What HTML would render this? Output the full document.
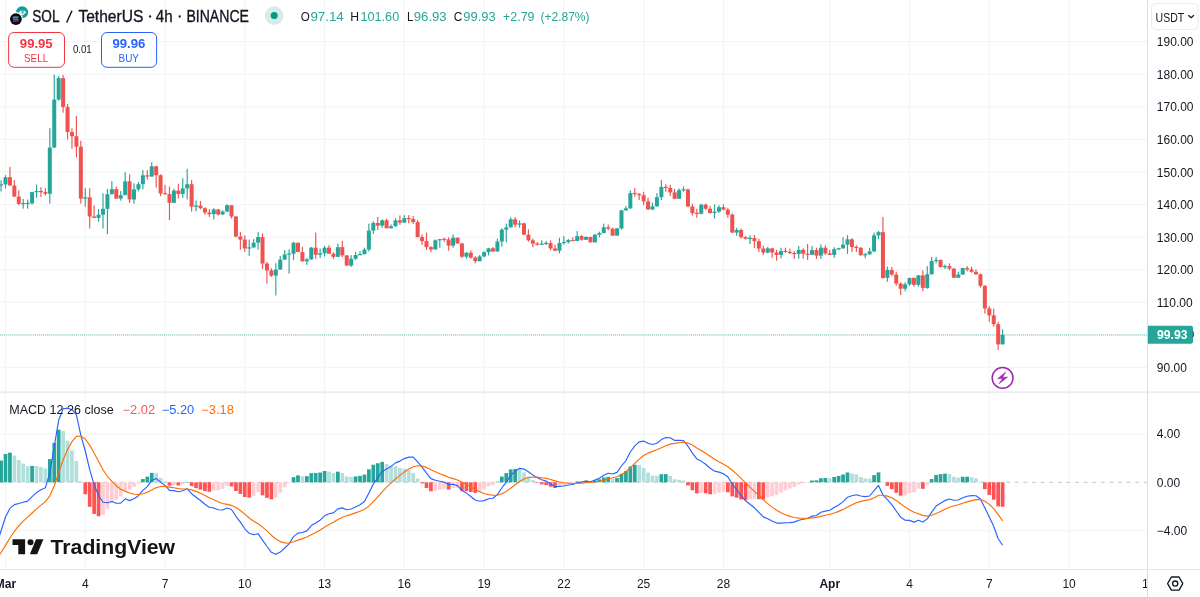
<!DOCTYPE html><html><head><meta charset="utf-8"><title>SOLUSDT</title><style>html,body{margin:0;padding:0;background:#fff;width:1200px;height:597px;overflow:hidden;font-family:"Liberation Sans",sans-serif}</style></head><body><svg width="1200" height="597" viewBox="0 0 1200 597" style="position:absolute;left:0;top:0;font-family:'Liberation Sans',sans-serif">
<defs><clipPath id="cp"><rect x="0" y="0" width="1147" height="597"/></clipPath><filter id="idf" x="0" y="0" width="1200" height="597" filterUnits="userSpaceOnUse" color-interpolation-filters="sRGB"><feOffset dx="0" dy="0"/></filter></defs>
<g filter="url(#idf)">
<rect width="1200" height="597" fill="#fff"/>
<g clip-path="url(#cp)">
<rect x="4.95" y="0" width="1.1" height="569" fill="#f3f5f5"/>
<rect x="84.72" y="0" width="1.1" height="569" fill="#f3f5f5"/>
<rect x="164.48" y="0" width="1.1" height="569" fill="#f3f5f5"/>
<rect x="244.25" y="0" width="1.1" height="569" fill="#f3f5f5"/>
<rect x="324.02" y="0" width="1.1" height="569" fill="#f3f5f5"/>
<rect x="403.78" y="0" width="1.1" height="569" fill="#f3f5f5"/>
<rect x="483.55" y="0" width="1.1" height="569" fill="#f3f5f5"/>
<rect x="563.32" y="0" width="1.1" height="569" fill="#f3f5f5"/>
<rect x="643.09" y="0" width="1.1" height="569" fill="#f3f5f5"/>
<rect x="722.85" y="0" width="1.1" height="569" fill="#f3f5f5"/>
<rect x="829.21" y="0" width="1.1" height="569" fill="#f3f5f5"/>
<rect x="908.98" y="0" width="1.1" height="569" fill="#f3f5f5"/>
<rect x="988.74" y="0" width="1.1" height="569" fill="#f3f5f5"/>
<rect x="1068.51" y="0" width="1.1" height="569" fill="#f3f5f5"/>
<rect x="0" y="41.08" width="1147" height="1.1" fill="#f3f5f5"/>
<rect x="0" y="73.65" width="1147" height="1.1" fill="#f3f5f5"/>
<rect x="0" y="106.22" width="1147" height="1.1" fill="#f3f5f5"/>
<rect x="0" y="138.78" width="1147" height="1.1" fill="#f3f5f5"/>
<rect x="0" y="171.35" width="1147" height="1.1" fill="#f3f5f5"/>
<rect x="0" y="203.92" width="1147" height="1.1" fill="#f3f5f5"/>
<rect x="0" y="236.49" width="1147" height="1.1" fill="#f3f5f5"/>
<rect x="0" y="269.05" width="1147" height="1.1" fill="#f3f5f5"/>
<rect x="0" y="301.62" width="1147" height="1.1" fill="#f3f5f5"/>
<rect x="0" y="334.19" width="1147" height="1.1" fill="#f3f5f5"/>
<rect x="0" y="366.75" width="1147" height="1.1" fill="#f3f5f5"/>
<rect x="0" y="433.35" width="1147" height="1.1" fill="#f3f5f5"/>
<rect x="0" y="530.15" width="1147" height="1.1" fill="#f3f5f5"/>
<line x1="0" y1="482.3" x2="1147" y2="482.3" stroke="#9598a1" stroke-width="1" stroke-dasharray="4 4.6" opacity="0.55"/>
<line x1="0" y1="335" x2="1147" y2="335" stroke="#26a69a" stroke-width="1.1" stroke-dasharray="1 1.05" opacity="0.7"/>
<g fill="#26a69a"><rect x="0.49" y="180.20" width="1.15" height="11.39"/><rect x="-0.93" y="184.37" width="4.0" height="1.20"/><rect x="4.92" y="175.18" width="1.15" height="13.40"/><rect x="3.50" y="177.19" width="4.0" height="7.20"/><rect x="22.65" y="198.96" width="1.15" height="9.72"/><rect x="21.23" y="203.05" width="4.0" height="1.20"/><rect x="27.08" y="199.46" width="1.15" height="9.21"/><rect x="25.66" y="202.80" width="4.0" height="1.20"/><rect x="31.51" y="192.09" width="1.15" height="12.40"/><rect x="30.09" y="192.09" width="4.0" height="11.22"/><rect x="35.95" y="184.56" width="1.15" height="13.23"/><rect x="34.52" y="190.99" width="4.0" height="1.20"/><rect x="49.24" y="128.27" width="1.15" height="75.38"/><rect x="47.81" y="147.56" width="4.0" height="46.21"/><rect x="53.67" y="74.55" width="1.15" height="73.03"/><rect x="52.25" y="99.59" width="4.0" height="47.97"/><rect x="58.10" y="76.06" width="1.15" height="24.62"/><rect x="56.68" y="78.07" width="4.0" height="21.52"/><rect x="84.69" y="188.24" width="1.15" height="18.43"/><rect x="83.27" y="197.29" width="4.0" height="1.34"/><rect x="97.99" y="209.01" width="1.15" height="12.73"/><rect x="96.56" y="214.71" width="4.0" height="3.18"/><rect x="102.42" y="193.27" width="1.15" height="35.18"/><rect x="100.99" y="208.84" width="4.0" height="5.86"/><rect x="106.85" y="188.91" width="1.15" height="45.23"/><rect x="105.42" y="194.19" width="4.0" height="14.66"/><rect x="111.28" y="181.04" width="1.15" height="13.40"/><rect x="109.86" y="189.16" width="4.0" height="5.03"/><rect x="120.14" y="191.09" width="1.15" height="9.55"/><rect x="118.72" y="195.11" width="4.0" height="3.52"/><rect x="124.58" y="172.16" width="1.15" height="22.95"/><rect x="123.15" y="181.37" width="4.0" height="13.74"/><rect x="133.44" y="183.22" width="1.15" height="20.44"/><rect x="132.01" y="189.33" width="4.0" height="10.13"/><rect x="137.87" y="181.88" width="1.15" height="9.21"/><rect x="136.44" y="184.14" width="4.0" height="5.19"/><rect x="142.30" y="170.15" width="1.15" height="19.26"/><rect x="140.88" y="175.34" width="4.0" height="8.79"/><rect x="151.16" y="162.11" width="1.15" height="14.74"/><rect x="149.74" y="166.30" width="4.0" height="10.22"/><rect x="173.32" y="188.91" width="1.15" height="13.90"/><rect x="171.90" y="190.59" width="4.0" height="12.23"/><rect x="182.19" y="178.19" width="1.15" height="19.60"/><rect x="180.76" y="188.41" width="4.0" height="5.53"/><rect x="186.62" y="168.81" width="1.15" height="30.65"/><rect x="185.19" y="184.22" width="4.0" height="4.19"/><rect x="195.48" y="200.64" width="1.15" height="10.55"/><rect x="194.05" y="205.54" width="4.0" height="1.20"/><rect x="213.21" y="208.24" width="1.15" height="11.22"/><rect x="211.78" y="209.41" width="4.0" height="4.77"/><rect x="222.07" y="210.25" width="1.15" height="4.69"/><rect x="220.64" y="211.59" width="4.0" height="2.85"/><rect x="226.50" y="204.39" width="1.15" height="7.20"/><rect x="225.07" y="205.23" width="4.0" height="6.37"/><rect x="248.66" y="239.56" width="1.15" height="16.25"/><rect x="247.23" y="247.34" width="4.0" height="1.20"/><rect x="253.09" y="239.06" width="1.15" height="8.71"/><rect x="251.66" y="242.66" width="4.0" height="4.77"/><rect x="257.52" y="232.03" width="1.15" height="17.59"/><rect x="256.10" y="237.08" width="4.0" height="5.58"/><rect x="275.25" y="263.24" width="1.15" height="32.16"/><rect x="273.82" y="269.52" width="4.0" height="6.11"/><rect x="279.68" y="256.04" width="1.15" height="13.57"/><rect x="278.25" y="259.64" width="4.0" height="9.88"/><rect x="284.11" y="250.18" width="1.15" height="9.72"/><rect x="282.68" y="254.45" width="4.0" height="5.19"/><rect x="288.54" y="249.34" width="1.15" height="24.29"/><rect x="287.12" y="253.47" width="4.0" height="1.20"/><rect x="292.97" y="241.80" width="1.15" height="18.09"/><rect x="291.55" y="242.81" width="4.0" height="10.89"/><rect x="306.27" y="257.71" width="1.15" height="7.20"/><rect x="304.84" y="259.39" width="4.0" height="1.93"/><rect x="310.70" y="246.83" width="1.15" height="13.07"/><rect x="309.27" y="247.66" width="4.0" height="11.73"/><rect x="319.56" y="248.50" width="1.15" height="9.72"/><rect x="318.14" y="253.19" width="4.0" height="1.51"/><rect x="323.99" y="245.99" width="1.15" height="10.55"/><rect x="322.57" y="247.66" width="4.0" height="5.53"/><rect x="337.29" y="243.48" width="1.15" height="13.40"/><rect x="335.86" y="247.16" width="4.0" height="9.72"/><rect x="350.58" y="255.20" width="1.15" height="11.73"/><rect x="349.16" y="258.72" width="4.0" height="6.87"/><rect x="355.01" y="251.85" width="1.15" height="8.04"/><rect x="353.59" y="255.03" width="4.0" height="3.69"/><rect x="359.44" y="251.01" width="1.15" height="4.20"/><rect x="358.02" y="254.01" width="4.0" height="1.20"/><rect x="363.88" y="247.66" width="1.15" height="6.87"/><rect x="362.45" y="249.59" width="4.0" height="4.61"/><rect x="368.31" y="223.71" width="1.15" height="27.81"/><rect x="366.88" y="230.55" width="4.0" height="19.04"/><rect x="372.74" y="221.14" width="1.15" height="12.90"/><rect x="371.31" y="222.98" width="4.0" height="7.57"/><rect x="381.60" y="219.46" width="1.15" height="8.38"/><rect x="380.18" y="220.30" width="4.0" height="5.36"/><rect x="390.47" y="224.36" width="1.15" height="3.92"/><rect x="389.04" y="226.29" width="4.0" height="1.99"/><rect x="394.90" y="218.17" width="1.15" height="8.38"/><rect x="393.47" y="220.34" width="4.0" height="5.95"/><rect x="403.76" y="215.15" width="1.15" height="7.45"/><rect x="402.33" y="218.17" width="4.0" height="4.44"/><rect x="434.78" y="239.44" width="1.15" height="10.05"/><rect x="433.36" y="240.28" width="4.0" height="9.21"/><rect x="439.21" y="238.94" width="1.15" height="8.88"/><rect x="437.79" y="239.13" width="4.0" height="1.20"/><rect x="452.51" y="234.41" width="1.15" height="13.40"/><rect x="451.08" y="237.76" width="4.0" height="7.87"/><rect x="465.80" y="252.34" width="1.15" height="6.37"/><rect x="464.38" y="252.67" width="4.0" height="4.02"/><rect x="479.10" y="255.02" width="1.15" height="6.20"/><rect x="477.67" y="256.44" width="4.0" height="4.77"/><rect x="483.53" y="251.16" width="1.15" height="6.20"/><rect x="482.10" y="252.17" width="4.0" height="4.27"/><rect x="487.96" y="247.81" width="1.15" height="7.54"/><rect x="486.53" y="248.32" width="4.0" height="3.85"/><rect x="496.82" y="238.60" width="1.15" height="12.90"/><rect x="495.40" y="241.53" width="4.0" height="9.97"/><rect x="501.25" y="228.22" width="1.15" height="18.43"/><rect x="499.83" y="229.64" width="4.0" height="11.89"/><rect x="505.68" y="223.53" width="1.15" height="18.76"/><rect x="504.26" y="227.38" width="4.0" height="2.26"/><rect x="510.12" y="217.16" width="1.15" height="10.39"/><rect x="508.69" y="219.34" width="4.0" height="8.04"/><rect x="518.98" y="220.51" width="1.15" height="7.20"/><rect x="517.55" y="223.36" width="4.0" height="1.34"/><rect x="541.14" y="240.28" width="1.15" height="4.54"/><rect x="539.71" y="243.61" width="4.0" height="1.20"/><rect x="545.57" y="241.11" width="1.15" height="3.85"/><rect x="544.14" y="242.86" width="4.0" height="1.20"/><rect x="558.86" y="237.76" width="1.15" height="15.58"/><rect x="557.44" y="242.96" width="4.0" height="7.71"/><rect x="563.29" y="236.09" width="1.15" height="8.38"/><rect x="561.87" y="241.94" width="4.0" height="1.20"/><rect x="567.73" y="238.94" width="1.15" height="4.69"/><rect x="566.30" y="240.11" width="4.0" height="2.01"/><rect x="576.59" y="231.06" width="1.15" height="10.05"/><rect x="575.16" y="236.13" width="4.0" height="4.82"/><rect x="585.45" y="236.16" width="1.15" height="3.85"/><rect x="584.03" y="237.00" width="4.0" height="2.76"/><rect x="594.31" y="233.99" width="1.15" height="8.38"/><rect x="592.89" y="234.74" width="4.0" height="7.62"/><rect x="598.75" y="231.64" width="1.15" height="5.70"/><rect x="597.32" y="233.07" width="4.0" height="1.68"/><rect x="603.18" y="223.60" width="1.15" height="9.72"/><rect x="601.75" y="227.29" width="4.0" height="5.78"/><rect x="616.47" y="227.79" width="1.15" height="7.87"/><rect x="615.05" y="228.46" width="4.0" height="7.20"/><rect x="620.90" y="209.87" width="1.15" height="19.60"/><rect x="619.48" y="210.37" width="4.0" height="18.09"/><rect x="625.33" y="206.01" width="1.15" height="4.52"/><rect x="623.91" y="208.36" width="4.0" height="2.01"/><rect x="629.77" y="190.44" width="1.15" height="18.43"/><rect x="628.34" y="193.12" width="4.0" height="15.24"/><rect x="651.92" y="202.66" width="1.15" height="7.54"/><rect x="650.50" y="206.26" width="4.0" height="3.18"/><rect x="656.36" y="193.12" width="1.15" height="13.74"/><rect x="654.93" y="197.22" width="4.0" height="9.05"/><rect x="660.79" y="180.05" width="1.15" height="20.10"/><rect x="659.36" y="186.92" width="4.0" height="10.30"/><rect x="678.51" y="188.43" width="1.15" height="10.39"/><rect x="677.09" y="190.10" width="4.0" height="8.71"/><rect x="682.94" y="186.42" width="1.15" height="5.36"/><rect x="681.52" y="189.21" width="4.0" height="1.20"/><rect x="700.67" y="203.84" width="1.15" height="10.55"/><rect x="699.25" y="204.67" width="4.0" height="9.05"/><rect x="713.96" y="204.34" width="1.15" height="14.24"/><rect x="712.54" y="211.71" width="4.0" height="1.34"/><rect x="718.40" y="205.18" width="1.15" height="7.54"/><rect x="716.97" y="207.19" width="4.0" height="4.52"/><rect x="736.12" y="227.79" width="1.15" height="7.87"/><rect x="734.70" y="229.97" width="4.0" height="2.60"/><rect x="749.42" y="235.33" width="1.15" height="8.71"/><rect x="747.99" y="237.87" width="4.0" height="1.20"/><rect x="767.14" y="246.88" width="1.15" height="6.37"/><rect x="765.72" y="248.38" width="4.0" height="4.19"/><rect x="780.44" y="247.71" width="1.15" height="10.55"/><rect x="779.01" y="251.06" width="4.0" height="3.85"/><rect x="798.16" y="246.04" width="1.15" height="12.90"/><rect x="796.74" y="249.89" width="4.0" height="4.02"/><rect x="811.46" y="246.04" width="1.15" height="8.88"/><rect x="810.03" y="250.06" width="4.0" height="4.69"/><rect x="820.32" y="244.36" width="1.15" height="14.57"/><rect x="818.90" y="247.71" width="4.0" height="7.87"/><rect x="833.62" y="247.21" width="1.15" height="10.55"/><rect x="832.19" y="249.14" width="4.0" height="5.78"/><rect x="838.05" y="247.71" width="1.15" height="2.51"/><rect x="836.62" y="248.16" width="4.0" height="1.20"/><rect x="842.48" y="237.16" width="1.15" height="11.39"/><rect x="841.05" y="244.61" width="4.0" height="3.77"/><rect x="846.91" y="235.15" width="1.15" height="18.76"/><rect x="845.48" y="239.34" width="4.0" height="5.28"/><rect x="864.64" y="252.74" width="1.15" height="5.53"/><rect x="863.21" y="254.15" width="4.0" height="1.20"/><rect x="869.07" y="247.71" width="1.15" height="7.20"/><rect x="867.64" y="251.31" width="4.0" height="2.93"/><rect x="873.50" y="232.64" width="1.15" height="19.60"/><rect x="872.07" y="235.32" width="4.0" height="16.00"/><rect x="877.93" y="230.96" width="1.15" height="8.38"/><rect x="876.51" y="232.14" width="4.0" height="3.18"/><rect x="886.79" y="266.64" width="1.15" height="15.08"/><rect x="885.37" y="269.99" width="4.0" height="7.87"/><rect x="904.52" y="282.39" width="1.15" height="8.88"/><rect x="903.09" y="284.31" width="4.0" height="4.44"/><rect x="908.95" y="277.36" width="1.15" height="8.38"/><rect x="907.53" y="278.03" width="4.0" height="6.28"/><rect x="917.81" y="275.02" width="1.15" height="11.73"/><rect x="916.39" y="275.35" width="4.0" height="9.46"/><rect x="926.68" y="266.14" width="1.15" height="22.61"/><rect x="925.25" y="274.26" width="4.0" height="13.65"/><rect x="931.11" y="256.93" width="1.15" height="17.59"/><rect x="929.68" y="261.03" width="4.0" height="13.23"/><rect x="935.54" y="256.93" width="1.15" height="6.37"/><rect x="934.12" y="259.89" width="4.0" height="1.20"/><rect x="944.40" y="264.46" width="1.15" height="4.52"/><rect x="942.98" y="266.04" width="4.0" height="1.20"/><rect x="957.70" y="271.80" width="1.15" height="5.96"/><rect x="956.27" y="274.56" width="4.0" height="3.20"/><rect x="962.13" y="267.61" width="1.15" height="7.20"/><rect x="960.70" y="268.12" width="4.0" height="6.45"/><rect x="1002.01" y="329.31" width="1.15" height="15.08"/><rect x="1000.59" y="334.84" width="4.0" height="9.55"/></g>
<g fill="#ef5350"><rect x="9.36" y="166.80" width="1.15" height="18.76"/><rect x="7.93" y="177.19" width="4.0" height="8.38"/><rect x="13.79" y="180.20" width="1.15" height="16.42"/><rect x="12.36" y="185.56" width="4.0" height="11.06"/><rect x="18.22" y="190.25" width="1.15" height="15.08"/><rect x="16.79" y="196.62" width="4.0" height="7.20"/><rect x="40.38" y="187.24" width="1.15" height="9.72"/><rect x="38.95" y="190.99" width="4.0" height="1.20"/><rect x="44.81" y="188.24" width="1.15" height="7.37"/><rect x="43.38" y="192.09" width="4.0" height="1.68"/><rect x="62.53" y="75.05" width="1.15" height="37.69"/><rect x="61.11" y="78.07" width="4.0" height="28.98"/><rect x="66.97" y="104.03" width="1.15" height="35.51"/><rect x="65.54" y="107.04" width="4.0" height="24.96"/><rect x="71.40" y="128.32" width="1.15" height="20.44"/><rect x="69.97" y="132.00" width="4.0" height="4.25"/><rect x="75.83" y="116.05" width="1.15" height="41.54"/><rect x="74.40" y="136.25" width="4.0" height="10.45"/><rect x="80.26" y="140.84" width="1.15" height="62.81"/><rect x="78.84" y="146.70" width="4.0" height="51.93"/><rect x="89.12" y="188.24" width="1.15" height="40.20"/><rect x="87.70" y="197.29" width="4.0" height="19.18"/><rect x="93.55" y="205.33" width="1.15" height="12.56"/><rect x="92.13" y="216.47" width="4.0" height="1.42"/><rect x="115.71" y="186.57" width="1.15" height="12.06"/><rect x="114.29" y="189.16" width="4.0" height="9.46"/><rect x="129.01" y="174.34" width="1.15" height="28.48"/><rect x="127.58" y="181.37" width="4.0" height="18.09"/><rect x="146.73" y="170.15" width="1.15" height="9.55"/><rect x="145.31" y="175.33" width="4.0" height="1.20"/><rect x="155.60" y="165.96" width="1.15" height="21.78"/><rect x="154.17" y="166.30" width="4.0" height="8.88"/><rect x="160.03" y="174.34" width="1.15" height="21.78"/><rect x="158.60" y="175.18" width="4.0" height="18.26"/><rect x="164.46" y="184.89" width="1.15" height="9.55"/><rect x="163.03" y="193.17" width="4.0" height="1.20"/><rect x="168.89" y="186.57" width="1.15" height="33.50"/><rect x="167.47" y="194.10" width="4.0" height="8.71"/><rect x="177.75" y="183.89" width="1.15" height="14.74"/><rect x="176.33" y="190.59" width="4.0" height="3.35"/><rect x="191.05" y="179.87" width="1.15" height="31.83"/><rect x="189.62" y="184.22" width="4.0" height="22.45"/><rect x="199.91" y="201.04" width="1.15" height="8.38"/><rect x="198.49" y="205.61" width="4.0" height="2.63"/><rect x="204.34" y="207.24" width="1.15" height="7.71"/><rect x="202.92" y="208.24" width="4.0" height="4.27"/><rect x="208.77" y="208.91" width="1.15" height="8.04"/><rect x="207.35" y="212.51" width="4.0" height="1.68"/><rect x="217.64" y="208.91" width="1.15" height="6.70"/><rect x="216.21" y="209.41" width="4.0" height="5.03"/><rect x="230.93" y="205.23" width="1.15" height="13.40"/><rect x="229.51" y="205.23" width="4.0" height="11.31"/><rect x="235.36" y="216.11" width="1.15" height="21.27"/><rect x="233.94" y="216.53" width="4.0" height="20.02"/><rect x="239.79" y="232.03" width="1.15" height="17.59"/><rect x="238.37" y="236.55" width="4.0" height="3.02"/><rect x="244.23" y="235.38" width="1.15" height="16.42"/><rect x="242.80" y="239.56" width="4.0" height="8.88"/><rect x="261.95" y="233.43" width="1.15" height="35.51"/><rect x="260.53" y="237.08" width="4.0" height="26.49"/><rect x="266.38" y="261.90" width="1.15" height="21.78"/><rect x="264.96" y="263.58" width="4.0" height="6.87"/><rect x="270.81" y="268.27" width="1.15" height="8.71"/><rect x="269.39" y="270.44" width="4.0" height="5.19"/><rect x="297.40" y="242.64" width="1.15" height="9.55"/><rect x="295.98" y="242.81" width="4.0" height="9.21"/><rect x="301.84" y="246.83" width="1.15" height="14.74"/><rect x="300.41" y="252.02" width="4.0" height="9.30"/><rect x="315.13" y="232.59" width="1.15" height="26.30"/><rect x="313.70" y="247.66" width="4.0" height="7.04"/><rect x="328.42" y="245.15" width="1.15" height="8.71"/><rect x="327.00" y="247.66" width="4.0" height="6.03"/><rect x="332.86" y="252.19" width="1.15" height="6.70"/><rect x="331.43" y="253.69" width="4.0" height="3.18"/><rect x="341.72" y="240.96" width="1.15" height="16.25"/><rect x="340.29" y="247.16" width="4.0" height="8.21"/><rect x="346.15" y="255.20" width="1.15" height="10.39"/><rect x="344.73" y="255.37" width="4.0" height="10.22"/><rect x="377.17" y="216.95" width="1.15" height="13.07"/><rect x="375.75" y="222.98" width="4.0" height="2.68"/><rect x="386.03" y="218.63" width="1.15" height="9.72"/><rect x="384.61" y="220.30" width="4.0" height="7.98"/><rect x="399.33" y="215.49" width="1.15" height="9.38"/><rect x="397.90" y="220.34" width="4.0" height="2.26"/><rect x="408.19" y="215.15" width="1.15" height="8.04"/><rect x="406.77" y="217.98" width="4.0" height="1.20"/><rect x="412.62" y="215.99" width="1.15" height="7.87"/><rect x="411.20" y="219.00" width="4.0" height="3.02"/><rect x="417.05" y="220.18" width="1.15" height="17.09"/><rect x="415.63" y="222.02" width="4.0" height="15.08"/><rect x="421.49" y="234.41" width="1.15" height="10.55"/><rect x="420.06" y="237.09" width="4.0" height="4.02"/><rect x="425.92" y="232.74" width="1.15" height="17.25"/><rect x="424.49" y="241.11" width="4.0" height="6.03"/><rect x="430.35" y="246.14" width="1.15" height="6.20"/><rect x="428.92" y="247.14" width="4.0" height="2.35"/><rect x="443.64" y="237.76" width="1.15" height="4.19"/><rect x="442.22" y="238.71" width="4.0" height="1.20"/><rect x="448.07" y="237.26" width="1.15" height="13.40"/><rect x="446.65" y="239.44" width="4.0" height="6.20"/><rect x="456.94" y="237.26" width="1.15" height="6.37"/><rect x="455.51" y="237.76" width="4.0" height="5.70"/><rect x="461.37" y="242.79" width="1.15" height="15.08"/><rect x="459.94" y="243.46" width="4.0" height="13.23"/><rect x="470.23" y="250.33" width="1.15" height="8.38"/><rect x="468.81" y="252.67" width="4.0" height="4.94"/><rect x="474.66" y="256.19" width="1.15" height="7.20"/><rect x="473.24" y="257.61" width="4.0" height="3.60"/><rect x="492.39" y="246.98" width="1.15" height="4.52"/><rect x="490.96" y="248.32" width="4.0" height="3.18"/><rect x="514.55" y="217.16" width="1.15" height="10.05"/><rect x="513.12" y="219.34" width="4.0" height="5.36"/><rect x="523.41" y="222.69" width="1.15" height="12.56"/><rect x="521.99" y="223.36" width="4.0" height="11.31"/><rect x="527.84" y="229.39" width="1.15" height="12.23"/><rect x="526.42" y="234.66" width="4.0" height="5.61"/><rect x="532.27" y="238.60" width="1.15" height="8.71"/><rect x="530.85" y="240.28" width="4.0" height="3.35"/><rect x="536.70" y="241.95" width="1.15" height="3.69"/><rect x="535.28" y="243.53" width="4.0" height="1.20"/><rect x="550.00" y="240.28" width="1.15" height="10.05"/><rect x="548.57" y="243.12" width="4.0" height="5.36"/><rect x="554.43" y="244.46" width="1.15" height="6.70"/><rect x="553.01" y="248.48" width="4.0" height="2.18"/><rect x="572.16" y="237.26" width="1.15" height="3.87"/><rect x="570.73" y="239.93" width="4.0" height="1.20"/><rect x="581.02" y="234.99" width="1.15" height="5.70"/><rect x="579.60" y="236.13" width="4.0" height="3.64"/><rect x="589.88" y="236.67" width="1.15" height="5.70"/><rect x="588.46" y="237.00" width="4.0" height="5.36"/><rect x="607.61" y="224.44" width="1.15" height="5.86"/><rect x="606.18" y="227.29" width="4.0" height="1.34"/><rect x="612.04" y="227.79" width="1.15" height="7.87"/><rect x="610.62" y="228.63" width="4.0" height="7.04"/><rect x="634.20" y="188.09" width="1.15" height="8.71"/><rect x="632.77" y="192.89" width="4.0" height="1.20"/><rect x="638.63" y="193.12" width="1.15" height="7.04"/><rect x="637.20" y="193.87" width="4.0" height="1.42"/><rect x="643.06" y="191.78" width="1.15" height="13.40"/><rect x="641.64" y="195.29" width="4.0" height="6.11"/><rect x="647.49" y="197.64" width="1.15" height="12.23"/><rect x="646.07" y="201.41" width="4.0" height="8.04"/><rect x="665.22" y="184.24" width="1.15" height="7.54"/><rect x="663.79" y="186.82" width="4.0" height="1.20"/><rect x="669.65" y="184.74" width="1.15" height="11.22"/><rect x="668.22" y="187.92" width="4.0" height="4.44"/><rect x="674.08" y="188.76" width="1.15" height="10.55"/><rect x="672.66" y="192.36" width="4.0" height="6.45"/><rect x="687.38" y="188.43" width="1.15" height="18.76"/><rect x="685.95" y="189.51" width="4.0" height="16.92"/><rect x="691.81" y="203.84" width="1.15" height="11.73"/><rect x="690.38" y="206.43" width="4.0" height="6.62"/><rect x="696.24" y="208.86" width="1.15" height="8.88"/><rect x="694.81" y="212.78" width="4.0" height="1.20"/><rect x="705.10" y="203.50" width="1.15" height="6.70"/><rect x="703.68" y="204.67" width="4.0" height="4.02"/><rect x="709.53" y="206.01" width="1.15" height="7.54"/><rect x="708.11" y="208.69" width="4.0" height="4.36"/><rect x="722.83" y="204.34" width="1.15" height="5.86"/><rect x="721.40" y="207.19" width="4.0" height="2.51"/><rect x="727.26" y="207.69" width="1.15" height="10.05"/><rect x="725.83" y="209.70" width="4.0" height="4.94"/><rect x="731.69" y="213.22" width="1.15" height="19.60"/><rect x="730.27" y="214.64" width="4.0" height="17.92"/><rect x="740.55" y="228.63" width="1.15" height="10.05"/><rect x="739.13" y="229.97" width="4.0" height="7.20"/><rect x="744.99" y="236.16" width="1.15" height="3.35"/><rect x="743.56" y="237.17" width="4.0" height="1.68"/><rect x="753.85" y="234.99" width="1.15" height="12.90"/><rect x="752.42" y="238.09" width="4.0" height="3.10"/><rect x="758.28" y="238.68" width="1.15" height="13.40"/><rect x="756.86" y="241.19" width="4.0" height="7.37"/><rect x="762.71" y="245.71" width="1.15" height="9.38"/><rect x="761.29" y="248.56" width="4.0" height="4.02"/><rect x="771.57" y="247.71" width="1.15" height="10.05"/><rect x="770.15" y="248.38" width="4.0" height="4.10"/><rect x="776.01" y="249.89" width="1.15" height="10.72"/><rect x="774.58" y="252.49" width="4.0" height="2.43"/><rect x="784.87" y="247.71" width="1.15" height="5.03"/><rect x="783.44" y="250.88" width="4.0" height="1.20"/><rect x="789.30" y="248.55" width="1.15" height="5.36"/><rect x="787.88" y="251.90" width="4.0" height="1.26"/><rect x="793.73" y="251.06" width="1.15" height="7.87"/><rect x="792.31" y="252.93" width="4.0" height="1.20"/><rect x="802.59" y="248.22" width="1.15" height="10.39"/><rect x="801.17" y="249.89" width="4.0" height="3.85"/><rect x="807.03" y="243.86" width="1.15" height="16.08"/><rect x="805.60" y="253.65" width="4.0" height="1.20"/><rect x="815.89" y="247.71" width="1.15" height="11.22"/><rect x="814.46" y="250.06" width="4.0" height="5.53"/><rect x="824.75" y="245.20" width="1.15" height="9.72"/><rect x="823.33" y="247.71" width="4.0" height="5.70"/><rect x="829.18" y="249.89" width="1.15" height="5.03"/><rect x="827.76" y="253.41" width="4.0" height="1.51"/><rect x="851.34" y="238.17" width="1.15" height="13.74"/><rect x="849.92" y="239.34" width="4.0" height="7.71"/><rect x="855.77" y="245.20" width="1.15" height="6.70"/><rect x="854.35" y="246.82" width="4.0" height="1.20"/><rect x="860.20" y="246.88" width="1.15" height="8.71"/><rect x="858.78" y="247.80" width="4.0" height="7.45"/><rect x="882.36" y="217.06" width="1.15" height="61.64"/><rect x="880.94" y="232.14" width="4.0" height="45.73"/><rect x="891.22" y="266.98" width="1.15" height="9.21"/><rect x="889.80" y="269.99" width="4.0" height="4.52"/><rect x="895.66" y="271.67" width="1.15" height="14.07"/><rect x="894.23" y="274.51" width="4.0" height="9.05"/><rect x="900.09" y="282.39" width="1.15" height="12.73"/><rect x="898.66" y="283.56" width="4.0" height="5.19"/><rect x="913.38" y="277.36" width="1.15" height="9.38"/><rect x="911.96" y="278.03" width="4.0" height="6.78"/><rect x="922.25" y="270.33" width="1.15" height="20.94"/><rect x="920.82" y="275.35" width="4.0" height="12.56"/><rect x="939.97" y="259.44" width="1.15" height="7.87"/><rect x="938.55" y="259.94" width="4.0" height="7.20"/><rect x="948.83" y="263.29" width="1.15" height="7.04"/><rect x="947.41" y="266.14" width="4.0" height="2.51"/><rect x="953.27" y="267.81" width="1.15" height="10.05"/><rect x="951.84" y="268.65" width="4.0" height="9.11"/><rect x="966.56" y="265.94" width="1.15" height="5.53"/><rect x="965.14" y="268.12" width="4.0" height="1.42"/><rect x="970.99" y="266.78" width="1.15" height="5.86"/><rect x="969.57" y="269.54" width="4.0" height="2.26"/><rect x="975.42" y="269.29" width="1.15" height="5.53"/><rect x="974.00" y="271.80" width="4.0" height="2.51"/><rect x="979.85" y="273.48" width="1.15" height="14.24"/><rect x="978.43" y="274.31" width="4.0" height="11.56"/><rect x="984.29" y="285.20" width="1.15" height="28.48"/><rect x="982.86" y="285.87" width="4.0" height="22.61"/><rect x="988.72" y="306.14" width="1.15" height="15.58"/><rect x="987.29" y="308.48" width="4.0" height="6.87"/><rect x="993.15" y="308.65" width="1.15" height="18.09"/><rect x="991.72" y="315.35" width="4.0" height="8.82"/><rect x="997.58" y="321.78" width="1.15" height="28.14"/><rect x="996.16" y="324.18" width="4.0" height="20.21"/></g>
<g fill="#26a69a"><rect x="-0.78" y="460.52" width="3.7" height="21.78"/><rect x="3.65" y="453.93" width="3.7" height="28.37"/><rect x="8.08" y="452.70" width="3.7" height="29.60"/><rect x="30.24" y="465.94" width="3.7" height="16.36"/><rect x="47.96" y="459.07" width="3.7" height="23.23"/><rect x="52.40" y="442.88" width="3.7" height="39.42"/><rect x="56.83" y="429.66" width="3.7" height="52.64"/><rect x="141.03" y="479.07" width="3.7" height="3.23"/><rect x="145.46" y="476.65" width="3.7" height="5.65"/><rect x="149.89" y="472.91" width="3.7" height="9.39"/><rect x="185.34" y="482.08" width="3.7" height="0.50"/><rect x="291.70" y="477.14" width="3.7" height="5.16"/><rect x="296.13" y="475.35" width="3.7" height="6.95"/><rect x="304.99" y="476.20" width="3.7" height="6.10"/><rect x="309.42" y="473.19" width="3.7" height="9.11"/><rect x="313.85" y="472.98" width="3.7" height="9.32"/><rect x="318.29" y="472.52" width="3.7" height="9.78"/><rect x="322.72" y="470.99" width="3.7" height="11.31"/><rect x="336.01" y="471.66" width="3.7" height="10.64"/><rect x="353.74" y="476.37" width="3.7" height="5.93"/><rect x="358.17" y="475.86" width="3.7" height="6.44"/><rect x="362.60" y="474.51" width="3.7" height="7.79"/><rect x="367.03" y="469.32" width="3.7" height="12.98"/><rect x="371.46" y="464.73" width="3.7" height="17.57"/><rect x="375.90" y="463.24" width="3.7" height="19.06"/><rect x="380.33" y="461.90" width="3.7" height="20.40"/><rect x="495.55" y="481.68" width="3.7" height="0.62"/><rect x="499.98" y="476.58" width="3.7" height="5.72"/><rect x="504.41" y="473.05" width="3.7" height="9.25"/><rect x="508.84" y="469.33" width="3.7" height="12.97"/><rect x="513.27" y="468.90" width="3.7" height="13.40"/><rect x="575.31" y="481.58" width="3.7" height="0.72"/><rect x="579.75" y="481.41" width="3.7" height="0.89"/><rect x="584.18" y="480.68" width="3.7" height="1.62"/><rect x="593.04" y="480.37" width="3.7" height="1.93"/><rect x="597.47" y="479.32" width="3.7" height="2.98"/><rect x="601.90" y="477.45" width="3.7" height="4.85"/><rect x="606.33" y="476.88" width="3.7" height="5.42"/><rect x="615.20" y="478.05" width="3.7" height="4.25"/><rect x="619.63" y="473.76" width="3.7" height="8.54"/><rect x="624.06" y="471.11" width="3.7" height="11.19"/><rect x="628.49" y="466.51" width="3.7" height="15.79"/><rect x="632.92" y="464.77" width="3.7" height="17.53"/><rect x="659.51" y="474.20" width="3.7" height="8.10"/><rect x="663.94" y="474.18" width="3.7" height="8.12"/><rect x="810.18" y="480.50" width="3.7" height="1.80"/><rect x="814.61" y="480.34" width="3.7" height="1.96"/><rect x="819.05" y="478.16" width="3.7" height="4.14"/><rect x="823.48" y="478.05" width="3.7" height="4.25"/><rect x="832.34" y="476.94" width="3.7" height="5.36"/><rect x="836.77" y="475.94" width="3.7" height="6.36"/><rect x="841.20" y="474.48" width="3.7" height="7.82"/><rect x="845.63" y="472.48" width="3.7" height="9.82"/><rect x="872.22" y="475.16" width="3.7" height="7.14"/><rect x="876.66" y="472.39" width="3.7" height="9.91"/><rect x="929.83" y="479.07" width="3.7" height="3.23"/><rect x="934.26" y="474.94" width="3.7" height="7.36"/><rect x="938.70" y="474.16" width="3.7" height="8.14"/><rect x="943.13" y="473.60" width="3.7" height="8.70"/><rect x="960.85" y="476.80" width="3.7" height="5.50"/><rect x="965.29" y="476.69" width="3.7" height="5.61"/></g>
<g fill="#b2dfdb"><rect x="12.51" y="455.59" width="3.7" height="26.71"/><rect x="16.94" y="460.06" width="3.7" height="22.24"/><rect x="21.38" y="463.56" width="3.7" height="18.74"/><rect x="25.81" y="466.34" width="3.7" height="15.96"/><rect x="34.67" y="466.03" width="3.7" height="16.27"/><rect x="39.10" y="466.93" width="3.7" height="15.37"/><rect x="43.53" y="468.50" width="3.7" height="13.80"/><rect x="61.26" y="431.09" width="3.7" height="51.21"/><rect x="65.69" y="440.79" width="3.7" height="41.51"/><rect x="70.12" y="450.36" width="3.7" height="31.94"/><rect x="74.55" y="460.87" width="3.7" height="21.43"/><rect x="78.99" y="481.32" width="3.7" height="0.98"/><rect x="154.32" y="473.10" width="3.7" height="9.20"/><rect x="158.75" y="477.98" width="3.7" height="4.32"/><rect x="163.18" y="481.38" width="3.7" height="0.92"/><rect x="300.56" y="476.28" width="3.7" height="6.02"/><rect x="327.15" y="471.65" width="3.7" height="10.65"/><rect x="331.58" y="472.99" width="3.7" height="9.31"/><rect x="340.44" y="472.98" width="3.7" height="9.32"/><rect x="344.88" y="476.41" width="3.7" height="5.89"/><rect x="349.31" y="476.93" width="3.7" height="5.37"/><rect x="384.76" y="463.93" width="3.7" height="18.37"/><rect x="389.19" y="465.65" width="3.7" height="16.65"/><rect x="393.62" y="466.19" width="3.7" height="16.11"/><rect x="398.05" y="467.93" width="3.7" height="14.37"/><rect x="402.48" y="468.79" width="3.7" height="13.51"/><rect x="406.92" y="470.33" width="3.7" height="11.97"/><rect x="411.35" y="472.75" width="3.7" height="9.55"/><rect x="415.78" y="478.49" width="3.7" height="3.81"/><rect x="517.70" y="468.99" width="3.7" height="13.31"/><rect x="522.14" y="472.43" width="3.7" height="9.87"/><rect x="526.57" y="476.47" width="3.7" height="5.83"/><rect x="531.00" y="480.14" width="3.7" height="2.16"/><rect x="588.61" y="481.58" width="3.7" height="0.72"/><rect x="610.77" y="478.50" width="3.7" height="3.80"/><rect x="637.35" y="465.11" width="3.7" height="17.19"/><rect x="641.79" y="467.88" width="3.7" height="14.42"/><rect x="646.22" y="472.53" width="3.7" height="9.77"/><rect x="650.65" y="475.46" width="3.7" height="6.84"/><rect x="655.08" y="475.80" width="3.7" height="6.50"/><rect x="668.37" y="475.98" width="3.7" height="6.32"/><rect x="672.81" y="479.32" width="3.7" height="2.98"/><rect x="677.24" y="479.85" width="3.7" height="2.45"/><rect x="681.67" y="480.54" width="3.7" height="1.76"/><rect x="827.91" y="478.26" width="3.7" height="4.04"/><rect x="850.07" y="473.35" width="3.7" height="8.95"/><rect x="854.50" y="474.33" width="3.7" height="7.97"/><rect x="858.93" y="476.95" width="3.7" height="5.35"/><rect x="863.36" y="478.45" width="3.7" height="3.85"/><rect x="867.79" y="478.74" width="3.7" height="3.56"/><rect x="881.09" y="481.90" width="3.7" height="0.50"/><rect x="947.56" y="474.05" width="3.7" height="8.25"/><rect x="951.99" y="476.70" width="3.7" height="5.60"/><rect x="956.42" y="477.68" width="3.7" height="4.62"/><rect x="969.72" y="477.27" width="3.7" height="5.03"/><rect x="974.15" y="478.33" width="3.7" height="3.97"/><rect x="978.58" y="481.78" width="3.7" height="0.52"/></g>
<g fill="#ff5252"><rect x="83.42" y="482.30" width="3.7" height="11.99"/><rect x="87.85" y="482.30" width="3.7" height="24.44"/><rect x="92.28" y="482.30" width="3.7" height="31.63"/><rect x="96.71" y="482.30" width="3.7" height="33.99"/><rect x="167.62" y="482.30" width="3.7" height="3.29"/><rect x="176.48" y="482.30" width="3.7" height="3.12"/><rect x="189.77" y="482.30" width="3.7" height="3.81"/><rect x="194.20" y="482.30" width="3.7" height="5.81"/><rect x="198.64" y="482.30" width="3.7" height="7.30"/><rect x="203.07" y="482.30" width="3.7" height="8.77"/><rect x="207.50" y="482.30" width="3.7" height="9.50"/><rect x="229.66" y="482.30" width="3.7" height="4.09"/><rect x="234.09" y="482.30" width="3.7" height="8.70"/><rect x="238.52" y="482.30" width="3.7" height="11.61"/><rect x="242.95" y="482.30" width="3.7" height="14.68"/><rect x="247.38" y="482.30" width="3.7" height="15.30"/><rect x="260.68" y="482.30" width="3.7" height="13.04"/><rect x="265.11" y="482.30" width="3.7" height="15.55"/><rect x="269.54" y="482.30" width="3.7" height="17.10"/><rect x="420.21" y="482.30" width="3.7" height="1.09"/><rect x="424.64" y="482.30" width="3.7" height="5.69"/><rect x="429.07" y="482.30" width="3.7" height="8.96"/><rect x="446.80" y="482.30" width="3.7" height="7.39"/><rect x="460.09" y="482.30" width="3.7" height="8.41"/><rect x="464.53" y="482.30" width="3.7" height="8.80"/><rect x="468.96" y="482.30" width="3.7" height="9.74"/><rect x="473.39" y="482.30" width="3.7" height="10.63"/><rect x="535.43" y="482.30" width="3.7" height="0.54"/><rect x="539.86" y="482.30" width="3.7" height="2.06"/><rect x="544.29" y="482.30" width="3.7" height="2.78"/><rect x="548.72" y="482.30" width="3.7" height="4.40"/><rect x="553.16" y="482.30" width="3.7" height="5.72"/><rect x="686.10" y="482.30" width="3.7" height="3.14"/><rect x="690.53" y="482.30" width="3.7" height="7.97"/><rect x="694.96" y="482.30" width="3.7" height="11.08"/><rect x="703.83" y="482.30" width="3.7" height="11.01"/><rect x="708.26" y="482.30" width="3.7" height="11.98"/><rect x="725.98" y="482.30" width="3.7" height="9.98"/><rect x="730.42" y="482.30" width="3.7" height="14.08"/><rect x="734.85" y="482.30" width="3.7" height="15.41"/><rect x="739.28" y="482.30" width="3.7" height="17.22"/><rect x="743.71" y="482.30" width="3.7" height="17.88"/><rect x="757.00" y="482.30" width="3.7" height="16.91"/><rect x="761.44" y="482.30" width="3.7" height="17.10"/><rect x="885.52" y="482.30" width="3.7" height="3.59"/><rect x="889.95" y="482.30" width="3.7" height="6.86"/><rect x="894.38" y="482.30" width="3.7" height="10.55"/><rect x="898.81" y="482.30" width="3.7" height="13.37"/><rect x="920.97" y="482.30" width="3.7" height="6.52"/><rect x="983.01" y="482.30" width="3.7" height="6.88"/><rect x="987.44" y="482.30" width="3.7" height="12.61"/><rect x="991.87" y="482.30" width="3.7" height="17.43"/><rect x="996.31" y="482.30" width="3.7" height="24.09"/><rect x="1000.74" y="482.30" width="3.7" height="24.44"/></g>
<g fill="#ffcdd2"><rect x="101.14" y="482.30" width="3.7" height="32.49"/><rect x="105.57" y="482.30" width="3.7" height="26.49"/><rect x="110.01" y="482.30" width="3.7" height="20.20"/><rect x="114.44" y="482.30" width="3.7" height="17.45"/><rect x="118.87" y="482.30" width="3.7" height="13.95"/><rect x="123.30" y="482.30" width="3.7" height="7.70"/><rect x="127.73" y="482.30" width="3.7" height="7.59"/><rect x="132.16" y="482.30" width="3.7" height="4.63"/><rect x="136.59" y="482.30" width="3.7" height="1.18"/><rect x="172.05" y="482.30" width="3.7" height="2.82"/><rect x="180.91" y="482.30" width="3.7" height="1.77"/><rect x="211.93" y="482.30" width="3.7" height="8.20"/><rect x="216.36" y="482.30" width="3.7" height="7.98"/><rect x="220.79" y="482.30" width="3.7" height="6.57"/><rect x="225.22" y="482.30" width="3.7" height="3.64"/><rect x="251.81" y="482.30" width="3.7" height="13.43"/><rect x="256.25" y="482.30" width="3.7" height="9.88"/><rect x="273.97" y="482.30" width="3.7" height="15.25"/><rect x="278.40" y="482.30" width="3.7" height="10.42"/><rect x="282.83" y="482.30" width="3.7" height="5.08"/><rect x="287.27" y="482.30" width="3.7" height="0.73"/><rect x="433.51" y="482.30" width="3.7" height="8.47"/><rect x="437.94" y="482.30" width="3.7" height="7.56"/><rect x="442.37" y="482.30" width="3.7" height="6.73"/><rect x="451.23" y="482.30" width="3.7" height="5.59"/><rect x="455.66" y="482.30" width="3.7" height="5.56"/><rect x="477.82" y="482.30" width="3.7" height="9.43"/><rect x="482.25" y="482.30" width="3.7" height="7.09"/><rect x="486.68" y="482.30" width="3.7" height="4.23"/><rect x="491.11" y="482.30" width="3.7" height="2.87"/><rect x="557.59" y="482.30" width="3.7" height="4.44"/><rect x="562.02" y="482.30" width="3.7" height="3.20"/><rect x="566.45" y="482.30" width="3.7" height="1.78"/><rect x="570.88" y="482.30" width="3.7" height="0.99"/><rect x="699.40" y="482.30" width="3.7" height="10.62"/><rect x="712.69" y="482.30" width="3.7" height="11.88"/><rect x="717.12" y="482.30" width="3.7" height="10.33"/><rect x="721.55" y="482.30" width="3.7" height="9.60"/><rect x="748.14" y="482.30" width="3.7" height="17.18"/><rect x="752.57" y="482.30" width="3.7" height="16.52"/><rect x="765.87" y="482.30" width="3.7" height="15.17"/><rect x="770.30" y="482.30" width="3.7" height="13.95"/><rect x="774.73" y="482.30" width="3.7" height="12.80"/><rect x="779.16" y="482.30" width="3.7" height="10.24"/><rect x="783.59" y="482.30" width="3.7" height="8.02"/><rect x="788.03" y="482.30" width="3.7" height="6.21"/><rect x="792.46" y="482.30" width="3.7" height="4.61"/><rect x="796.89" y="482.30" width="3.7" height="2.10"/><rect x="801.32" y="482.30" width="3.7" height="1.00"/><rect x="805.75" y="482.30" width="3.7" height="0.50"/><rect x="903.24" y="482.30" width="3.7" height="13.19"/><rect x="907.68" y="482.30" width="3.7" height="10.68"/><rect x="912.11" y="482.30" width="3.7" height="9.90"/><rect x="916.54" y="482.30" width="3.7" height="6.37"/><rect x="925.40" y="482.30" width="3.7" height="2.73"/></g>
<path d="M-3.4,544.4 L1.1,530.7 L5.5,517.0 L9.9,508.4 L14.4,504.6 L18.8,503.5 L23.2,502.3 L27.7,501.1 L32.1,496.6 L36.5,492.6 L41.0,489.7 L45.4,487.8 L49.8,472.6 L54.2,446.5 L58.7,420.2 L63.1,408.8 L67.5,408.1 L72.0,409.7 L76.4,414.9 L80.8,435.1 L85.3,451.0 L89.7,469.6 L94.1,484.7 L98.6,495.5 L103.0,502.2 L107.4,502.8 L111.9,501.5 L116.3,503.2 L120.7,503.1 L125.2,498.8 L129.6,500.6 L134.0,498.8 L138.4,495.7 L142.9,490.4 L147.3,486.6 L151.7,480.5 L156.2,478.4 L160.6,482.2 L165.0,485.4 L169.5,490.4 L173.9,490.6 L178.3,491.7 L182.8,490.8 L187.2,488.8 L191.6,493.7 L196.1,497.2 L200.5,500.5 L204.9,504.2 L209.3,507.3 L213.8,508.0 L218.2,509.8 L222.6,510.0 L227.1,508.0 L231.5,509.5 L235.9,516.3 L240.4,522.1 L244.8,528.8 L249.2,533.3 L253.7,534.8 L258.1,533.7 L262.5,540.1 L267.0,546.5 L271.4,552.3 L275.8,554.3 L280.3,552.1 L284.7,548.0 L289.1,543.8 L293.5,536.6 L298.0,533.1 L302.4,532.5 L306.8,530.9 L311.3,525.6 L315.7,523.1 L320.1,520.2 L324.6,515.8 L329.0,513.8 L333.4,512.9 L337.9,508.9 L342.3,507.9 L346.7,509.8 L351.2,509.0 L355.6,506.9 L360.0,504.8 L364.5,501.5 L368.9,493.1 L373.3,484.1 L377.7,477.9 L382.2,471.4 L386.6,468.9 L391.0,466.4 L395.5,462.9 L399.9,461.1 L404.3,458.6 L408.8,457.1 L413.2,457.1 L417.6,461.9 L422.1,467.1 L426.5,473.1 L430.9,478.6 L435.4,480.3 L439.8,481.2 L444.2,482.1 L448.6,484.6 L453.1,484.2 L457.5,485.6 L461.9,490.5 L466.4,493.1 L470.8,496.5 L475.2,500.0 L479.7,501.2 L484.1,500.6 L488.5,498.8 L493.0,498.2 L497.4,494.5 L501.8,488.0 L506.3,482.1 L510.7,475.2 L515.1,471.4 L519.6,468.2 L524.0,469.1 L528.4,471.7 L532.8,474.9 L537.3,477.7 L541.7,479.7 L546.1,481.1 L550.6,483.9 L555.0,486.6 L559.4,486.4 L563.9,486.0 L568.3,485.0 L572.7,484.5 L577.2,482.6 L581.6,482.2 L586.0,481.1 L590.5,481.8 L594.9,480.1 L599.3,478.3 L603.8,475.2 L608.2,473.3 L612.6,474.0 L617.0,472.4 L621.5,466.0 L625.9,460.6 L630.3,452.0 L634.8,445.9 L639.2,441.9 L643.6,441.1 L648.1,443.3 L652.5,444.5 L656.9,443.2 L661.4,439.6 L665.8,437.6 L670.2,437.8 L674.7,440.4 L679.1,440.3 L683.5,440.6 L688.0,446.2 L692.4,453.1 L696.8,458.9 L701.2,461.1 L705.7,464.3 L710.1,468.2 L714.5,471.1 L719.0,472.1 L723.4,473.8 L727.8,476.7 L732.3,484.3 L736.7,489.5 L741.1,495.6 L745.6,500.7 L750.0,504.3 L754.4,507.8 L758.9,512.4 L763.3,516.9 L767.7,518.8 L772.1,521.0 L776.6,523.1 L781.0,523.1 L785.4,522.8 L789.9,522.6 L794.3,522.1 L798.7,520.2 L803.2,519.3 L807.6,518.5 L812.0,516.1 L816.5,515.5 L820.9,512.2 L825.3,511.1 L829.8,510.3 L834.2,507.6 L838.6,505.0 L843.1,501.6 L847.5,497.2 L851.9,495.8 L856.3,494.8 L860.8,496.0 L865.2,496.6 L869.6,496.0 L874.1,490.6 L878.5,485.4 L882.9,494.8 L887.4,499.7 L891.8,504.7 L896.2,511.0 L900.7,517.2 L905.1,520.3 L909.5,520.4 L914.0,522.1 L918.4,520.2 L922.8,522.0 L927.3,518.9 L931.7,512.1 L936.1,506.1 L940.5,503.3 L945.0,500.6 L949.4,499.0 L953.8,500.2 L958.3,500.0 L962.7,497.8 L967.1,496.3 L971.6,495.6 L976.0,495.7 L980.4,499.0 L984.9,508.1 L989.3,517.0 L993.7,526.2 L998.2,538.8 L1002.6,545.3" fill="none" stroke="#2962ff" stroke-width="1.15" stroke-linejoin="round"/>
<path d="M-3.4,559.6 L1.1,552.5 L5.5,545.4 L9.9,538.0 L14.4,531.3 L18.8,525.7 L23.2,521.1 L27.7,517.1 L32.1,513.0 L36.5,508.9 L41.0,505.1 L45.4,501.6 L49.8,495.8 L54.2,486.0 L58.7,472.8 L63.1,460.0 L67.5,449.6 L72.0,441.6 L76.4,436.3 L80.8,436.0 L85.3,439.0 L89.7,445.1 L94.1,453.0 L98.6,461.5 L103.0,469.7 L107.4,476.3 L111.9,481.3 L116.3,485.7 L120.7,489.2 L125.2,491.1 L129.6,493.0 L134.0,494.2 L138.4,494.5 L142.9,493.7 L147.3,492.2 L151.7,489.9 L156.2,487.6 L160.6,486.5 L165.0,486.3 L169.5,487.1 L173.9,487.8 L178.3,488.6 L182.8,489.0 L187.2,489.0 L191.6,489.9 L196.1,491.4 L200.5,493.2 L204.9,495.4 L209.3,497.8 L213.8,499.8 L218.2,501.8 L222.6,503.5 L227.1,504.4 L231.5,505.4 L235.9,507.6 L240.4,510.5 L244.8,514.1 L249.2,518.0 L253.7,521.3 L258.1,523.8 L262.5,527.1 L267.0,530.9 L271.4,535.2 L275.8,539.0 L280.3,541.6 L284.7,542.9 L289.1,543.1 L293.5,541.8 L298.0,540.1 L302.4,538.6 L306.8,537.0 L311.3,534.8 L315.7,532.4 L320.1,530.0 L324.6,527.2 L329.0,524.5 L333.4,522.2 L337.9,519.5 L342.3,517.2 L346.7,515.7 L351.2,514.4 L355.6,512.9 L360.0,511.3 L364.5,509.3 L368.9,506.1 L373.3,501.7 L377.7,496.9 L382.2,491.8 L386.6,487.2 L391.0,483.1 L395.5,479.0 L399.9,475.4 L404.3,472.1 L408.8,469.1 L413.2,466.7 L417.6,465.7 L422.1,466.0 L426.5,467.4 L430.9,469.7 L435.4,471.8 L439.8,473.7 L444.2,475.4 L448.6,477.2 L453.1,478.6 L457.5,480.0 L461.9,482.1 L466.4,484.3 L470.8,486.7 L475.2,489.4 L479.7,491.7 L484.1,493.5 L488.5,494.6 L493.0,495.3 L497.4,495.1 L501.8,493.7 L506.3,491.4 L510.7,488.2 L515.1,484.8 L519.6,481.5 L524.0,479.0 L528.4,477.5 L532.8,477.0 L537.3,477.1 L541.7,477.7 L546.1,478.4 L550.6,479.5 L555.0,480.9 L559.4,482.0 L563.9,482.8 L568.3,483.2 L572.7,483.5 L577.2,483.3 L581.6,483.1 L586.0,482.7 L590.5,482.5 L594.9,482.0 L599.3,481.3 L603.8,480.1 L608.2,478.7 L612.6,477.8 L617.0,476.7 L621.5,474.6 L625.9,471.8 L630.3,467.8 L634.8,463.4 L639.2,459.1 L643.6,455.5 L648.1,453.1 L652.5,451.4 L656.9,449.7 L661.4,447.7 L665.8,445.7 L670.2,444.1 L674.7,443.4 L679.1,442.8 L683.5,442.3 L688.0,443.1 L692.4,445.1 L696.8,447.9 L701.2,450.5 L705.7,453.3 L710.1,456.3 L714.5,459.2 L719.0,461.8 L723.4,464.2 L727.8,466.7 L732.3,470.2 L736.7,474.1 L741.1,478.4 L745.6,482.9 L750.0,487.2 L754.4,491.3 L758.9,495.5 L763.3,499.8 L767.7,503.6 L772.1,507.1 L776.6,510.3 L781.0,512.8 L785.4,514.8 L789.9,516.4 L794.3,517.5 L798.7,518.1 L803.2,518.3 L807.6,518.4 L812.0,517.9 L816.5,517.4 L820.9,516.4 L825.3,515.3 L829.8,514.3 L834.2,513.0 L838.6,511.4 L843.1,509.4 L847.5,507.0 L851.9,504.7 L856.3,502.7 L860.8,501.4 L865.2,500.4 L869.6,499.6 L874.1,497.8 L878.5,495.3 L882.9,495.2 L887.4,496.1 L891.8,497.8 L896.2,500.4 L900.7,503.8 L905.1,507.1 L909.5,509.7 L914.0,512.2 L918.4,513.8 L922.8,515.4 L927.3,516.1 L931.7,515.3 L936.1,513.5 L940.5,511.4 L945.0,509.3 L949.4,507.2 L953.8,505.8 L958.3,504.7 L962.7,503.3 L967.1,501.9 L971.6,500.6 L976.0,499.6 L980.4,499.5 L984.9,501.2 L989.3,504.4 L993.7,508.7 L998.2,514.7 L1002.6,520.9" fill="none" stroke="#ff6d00" stroke-width="1.15" stroke-linejoin="round"/>
</g>
<rect x="0" y="391.3" width="1200" height="1.9" fill="#ebedf1"/>
<rect x="1147" y="0" width="1" height="597" fill="#dcdee3"/>
<rect x="0" y="569" width="1200" height="1.1" fill="#e4e7ec"/>
<text x="1156.8" y="46.2" font-size="12" fill="#131722">190.00</text>
<text x="1156.8" y="78.8" font-size="12" fill="#131722">180.00</text>
<text x="1156.8" y="111.4" font-size="12" fill="#131722">170.00</text>
<text x="1156.8" y="143.9" font-size="12" fill="#131722">160.00</text>
<text x="1156.8" y="176.5" font-size="12" fill="#131722">150.00</text>
<text x="1156.8" y="209.1" font-size="12" fill="#131722">140.00</text>
<text x="1156.8" y="241.6" font-size="12" fill="#131722">130.00</text>
<text x="1156.8" y="274.2" font-size="12" fill="#131722">120.00</text>
<text x="1156.8" y="306.8" font-size="12" fill="#131722">110.00</text>
<text x="1156.8" y="371.9" font-size="12" fill="#131722">90.00</text>
<text x="1156.8" y="438.1" font-size="12" fill="#131722">4.00</text>
<text x="1156.8" y="486.5" font-size="12" fill="#131722">0.00</text>
<text x="1156.8" y="534.9" font-size="12" fill="#131722">−4.00</text>
<path d="M1147.9,325.8 h43.1 a2,2 0 0 1 2,2 v14 a2,2 0 0 1 -2,2 h-43.1 z" fill="#26a69a"/>
<path d="M1192.5,331 Q1194.7,334.2 1192.5,337.4" fill="none" stroke="#4a4e59" stroke-width="1.1"/>
<text x="1157" y="339.4" font-size="13" fill="#fff" font-weight="bold" textLength="30.6" lengthAdjust="spacingAndGlyphs">99.93</text>
<g clip-path="url(#cp)">
<text x="5.5" y="587.6" font-size="12" fill="#131722" text-anchor="middle" font-weight="bold">Mar</text>
<text x="85.3" y="587.6" font-size="12" fill="#131722" text-anchor="middle">4</text>
<text x="165.0" y="587.6" font-size="12" fill="#131722" text-anchor="middle">7</text>
<text x="244.8" y="587.6" font-size="12" fill="#131722" text-anchor="middle">10</text>
<text x="324.6" y="587.6" font-size="12" fill="#131722" text-anchor="middle">13</text>
<text x="404.3" y="587.6" font-size="12" fill="#131722" text-anchor="middle">16</text>
<text x="484.1" y="587.6" font-size="12" fill="#131722" text-anchor="middle">19</text>
<text x="563.9" y="587.6" font-size="12" fill="#131722" text-anchor="middle">22</text>
<text x="643.6" y="587.6" font-size="12" fill="#131722" text-anchor="middle">25</text>
<text x="723.4" y="587.6" font-size="12" fill="#131722" text-anchor="middle">28</text>
<text x="829.8" y="587.6" font-size="12" fill="#131722" text-anchor="middle" font-weight="bold">Apr</text>
<text x="909.5" y="587.6" font-size="12" fill="#131722" text-anchor="middle">4</text>
<text x="989.3" y="587.6" font-size="12" fill="#131722" text-anchor="middle">7</text>
<text x="1069.1" y="587.6" font-size="12" fill="#131722" text-anchor="middle">10</text>
<text x="1148.8" y="587.6" font-size="12" fill="#131722" text-anchor="middle">13</text>
</g>
<polygon points="1182.80,583.60 1179.00,590.18 1171.40,590.18 1167.60,583.60 1171.40,577.02 1179.00,577.02" fill="none" stroke="#131722" stroke-width="1.3" stroke-linejoin="round"/>
<circle cx="1175.2" cy="583.6" r="2.6" fill="none" stroke="#131722" stroke-width="1.3"/>
<rect x="1151.5" y="3.5" width="46.5" height="26" rx="4" fill="#fff" stroke="#e9ebef" stroke-width="1"/>
<text x="1155.6" y="21.7" font-size="13" fill="#131722" textLength="28.5" lengthAdjust="spacingAndGlyphs">USDT</text>
<path d="M1188.6,15.6 l2.5,2.1 l2.5,-2.1" fill="none" stroke="#131722" stroke-width="1.3" stroke-linecap="round" stroke-linejoin="round"/>
<circle cx="1002.6" cy="377.9" r="10.4" fill="#fff" stroke="#9c27b0" stroke-width="1.5"/>
<path d="M1005.8,372.1 L997.6,378.7 L1002.7,378.3 L999.1,383.7 L1007.5,377.1 L1002.5,377.5 Z" fill="#9c27b0" stroke="#9c27b0" stroke-width="0.6" stroke-linejoin="round"/>
<circle cx="22.1" cy="12.3" r="6.1" fill="#12a09a"/>
<path d="M20.2,10.7 L24.7,10.7 L26.1,12.6 L22.5,15.6 L19,12.6 Z" fill="#fff"/>
<path d="M21.2,11.6 h2.8 M22.6,11.6 v2.2 M21.3,12.7 q1.3,0.6 2.6,0" stroke="#12a09a" stroke-width="0.7" fill="none"/>
<circle cx="15.9" cy="19.1" r="7" fill="#fff"/>
<circle cx="15.9" cy="19.1" r="5.9" fill="#0b0b10"/>
<path d="M13.3,16.6 h5.6 l-0.8,1.2 h-5.6z" fill="#3fd6a5"/><path d="M12.5,18.5 h5.6 l0.8,1.2 h-5.6z" fill="#6c8fe0"/><path d="M13.3,20.4 h5.6 l-0.8,1.2 h-5.6z" fill="#9945ff"/>
<text x="32.3" y="22.2" font-size="16" fill="#131722" stroke="#131722" stroke-width="0.35" textLength="27.2" lengthAdjust="spacingAndGlyphs">SOL</text>
<text x="78.4" y="22.2" font-size="16" fill="#131722" stroke="#131722" stroke-width="0.35" textLength="65" lengthAdjust="spacingAndGlyphs">TetherUS</text>
<text x="155.8" y="22.2" font-size="16" fill="#131722" stroke="#131722" stroke-width="0.35" textLength="16.8" lengthAdjust="spacingAndGlyphs">4h</text>
<text x="186.4" y="22.2" font-size="16" fill="#131722" stroke="#131722" stroke-width="0.35" textLength="62.6" lengthAdjust="spacingAndGlyphs">BINANCE</text>
<line x1="66.6" y1="22.6" x2="72" y2="10.6" stroke="#131722" stroke-width="1.35"/>
<circle cx="150.1" cy="16.5" r="1.15" fill="#131722"/><circle cx="179.7" cy="16.5" r="1.15" fill="#131722"/>
<circle cx="274.2" cy="15.6" r="9.3" fill="#26a69a" opacity="0.2"/><circle cx="274.2" cy="15.6" r="3.5" fill="#089981"/>
<text x="300.8" y="21" font-size="13.6" fill="#131722" textLength="9" lengthAdjust="spacingAndGlyphs">O</text>
<text x="310.4" y="21" font-size="13.6" fill="#26a69a" textLength="33.4" lengthAdjust="spacingAndGlyphs">97.14</text>
<text x="350.2" y="21" font-size="13.6" fill="#131722" textLength="8.8" lengthAdjust="spacingAndGlyphs">H</text>
<text x="360.4" y="21" font-size="13.6" fill="#26a69a" textLength="38.8" lengthAdjust="spacingAndGlyphs">101.60</text>
<text x="407" y="21" font-size="13.6" fill="#131722" textLength="6.4" lengthAdjust="spacingAndGlyphs">L</text>
<text x="413.8" y="21" font-size="13.6" fill="#26a69a" textLength="32.9" lengthAdjust="spacingAndGlyphs">96.93</text>
<text x="453.7" y="21" font-size="13.6" fill="#131722" textLength="8.6" lengthAdjust="spacingAndGlyphs">C</text>
<text x="463.3" y="21" font-size="13.6" fill="#26a69a" textLength="32.5" lengthAdjust="spacingAndGlyphs">99.93</text>
<text x="502.9" y="21" font-size="13.6" fill="#26a69a" textLength="31.7" lengthAdjust="spacingAndGlyphs">+2.79</text>
<text x="540.4" y="21" font-size="13.6" fill="#26a69a" textLength="49.2" lengthAdjust="spacingAndGlyphs">(+2.87%)</text>
<rect x="8.6" y="32.5" width="55.9" height="34.8" rx="5.5" fill="#fff" stroke="#f23645" stroke-width="1"/>
<text x="36.25" y="47.8" font-size="12.8" font-weight="bold" fill="#f23645" text-anchor="middle" textLength="32.8" lengthAdjust="spacingAndGlyphs">99.95</text>
<text x="36.1" y="61.75" font-size="10.8" fill="#f23645" text-anchor="middle" textLength="24.2" lengthAdjust="spacingAndGlyphs">SELL</text>
<text x="72.9" y="52.8" font-size="10.4" fill="#131722" textLength="18.8" lengthAdjust="spacingAndGlyphs">0.01</text>
<rect x="101.5" y="32.5" width="55.1" height="34.8" rx="5.5" fill="#fff" stroke="#2962ff" stroke-width="1"/>
<text x="128.95" y="47.8" font-size="12.8" font-weight="bold" fill="#2962ff" text-anchor="middle" textLength="32.9" lengthAdjust="spacingAndGlyphs">99.96</text>
<text x="128.75" y="61.75" font-size="10.8" fill="#2962ff" text-anchor="middle" textLength="20.5" lengthAdjust="spacingAndGlyphs">BUY</text>
<text x="9.3" y="414" font-size="12" fill="#131722" textLength="104.3" lengthAdjust="spacingAndGlyphs">MACD 12 26 close</text>
<text x="122.5" y="414" font-size="12" fill="#ff5252" textLength="32.6" lengthAdjust="spacingAndGlyphs">−2.02</text>
<text x="161.7" y="414" font-size="12" fill="#2962ff" textLength="32.6" lengthAdjust="spacingAndGlyphs">−5.20</text>
<text x="201.3" y="414" font-size="12" fill="#ff6d00" textLength="32.6" lengthAdjust="spacingAndGlyphs">−3.18</text>
<path d="M12.5,539.2 h12.6 v15 h-6.8 v-9.1 h-5.8 z" fill="#141414"/><circle cx="30.5" cy="542.2" r="3" fill="#141414"/><path d="M36,539.2 h7.4 l-6.2,15 h-7.3 z" fill="#141414"/>
<text x="50.6" y="554.2" font-size="21" font-weight="bold" fill="#141414" textLength="124.5" lengthAdjust="spacingAndGlyphs">TradingView</text>
</g></svg></body></html>
